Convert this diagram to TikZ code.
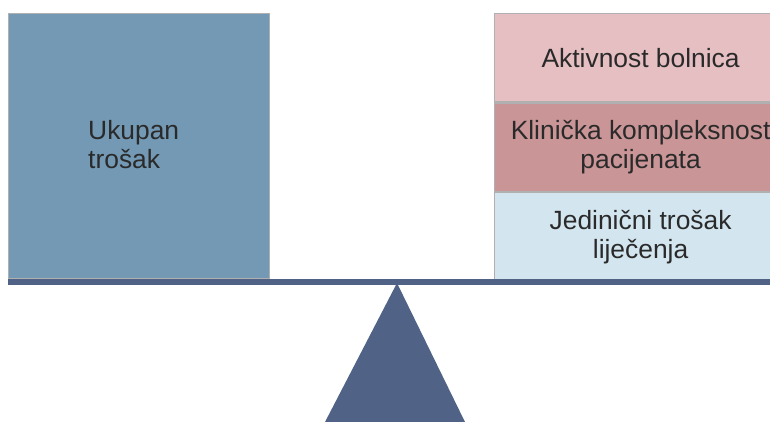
\documentclass[tikz,border=0pt]{standalone}
\usepackage{fontspec}
\setmainfont{Liberation Sans}
\usepackage{xcolor}
\usetikzlibrary{positioning}

\definecolor{costblue}{HTML}{7399B4}
\definecolor{activepink}{HTML}{E6BFC2}
\definecolor{complexrose}{HTML}{C99597}
\definecolor{unitblue}{HTML}{D3E5EF}
\definecolor{beamblue}{HTML}{506387}
\definecolor{edgegray}{HTML}{B0B0B0}
\definecolor{textdark}{HTML}{2A2A2A}

\tikzset{
    label/.style={text=textdark, font=\fontsize{26.4}{29}\selectfont},
    panel/.style={label, draw=edgegray, line width=1.2pt, rectangle, inner sep=0pt},
    weight/.style={panel, minimum width=292pt, minimum height=88.3pt, align=center}
}

\begin{document}
\begin{tikzpicture}[x=1pt,y=1pt]
    \useasboundingbox (0,0) rectangle (770,422);
    \clip (0,0) rectangle (770,422);

    % Left pan
    \node[panel, fill=costblue, minimum width=261pt, minimum height=265pt, anchor=north west] (total) at (8,409) {};
    \node[label, align=left, anchor=west, inner sep=0pt] (totaltext) at (88,277) {Ukupan\\trošak};

    % Right pan
    \node[weight, fill=activepink, anchor=north west] (activity) at (494,409) {Aktivnost bolnica};
    \node[weight, fill=complexrose, below=0pt of activity] (complexity) {Klinička kompleksnost\\pacijenata};
    \node[weight, fill=unitblue, below=0pt of complexity] (unitcost) {Jedinični trošak\\liječenja};

    % Beam and pivot
    \coordinate (beamleft) at (8,140);
    \coordinate (beamright) at (770,140);
    \draw[beamblue, line width=6pt] (beamleft) -- (beamright);
    \node[coordinate] (apex) at (397,139) {};
    \fill[beamblue] (apex) -- (325,0) -- (465,0) -- cycle;
\end{tikzpicture}
\end{document}
